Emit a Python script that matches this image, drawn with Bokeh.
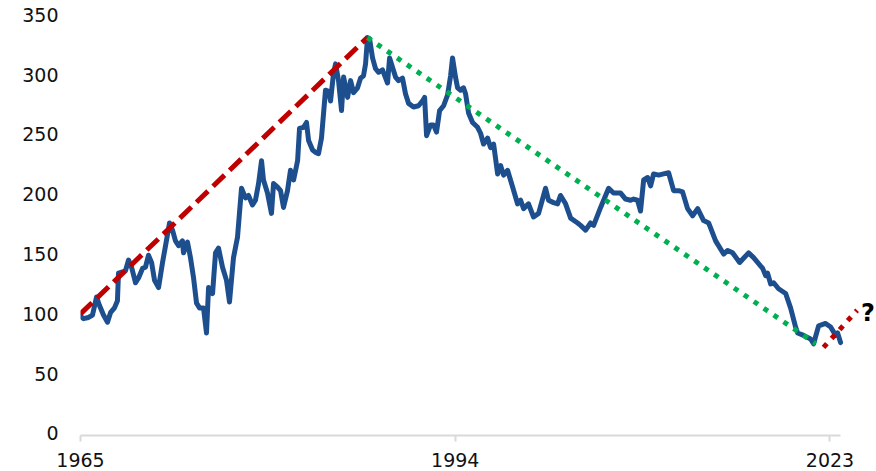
from bokeh.plotting import figure
from bokeh.models import FixedTicker, Label, Range1d
from bokeh.embed import file_html
from bokeh.resources import INLINE

# ---- data ----
years = [1965.0, 1965.23, 1965.62, 1965.93, 1966.24, 1966.47, 1966.78, 1967.09, 1967.32, 1967.63,
         1967.86, 1967.94, 1968.25, 1968.48, 1968.72, 1968.95, 1969.26, 1969.49, 1969.8, 1970.03,
         1970.26, 1970.5, 1970.73, 1971.04, 1971.35, 1971.58, 1971.89, 1972.12, 1972.35, 1972.59,
         1972.89, 1972.97, 1973.28, 1973.51, 1973.75, 1973.98, 1974.21, 1974.52, 1974.75, 1974.91,
         1975.22, 1975.45, 1975.68, 1975.99, 1976.3, 1976.53, 1976.84, 1977.15, 1977.46, 1977.77,
         1978.0, 1978.31, 1978.54, 1978.78, 1979.01, 1979.16, 1979.47, 1979.78, 1979.94, 1980.25,
         1980.48, 1980.71, 1981.02, 1981.25, 1981.49, 1981.8, 1981.95, 1982.26, 1982.49, 1982.65,
         1982.96, 1983.19, 1983.42, 1983.65, 1983.96, 1984.2, 1984.35, 1984.58, 1984.74, 1984.97,
         1985.2, 1985.36, 1985.67, 1985.9, 1986.13, 1986.44, 1986.67, 1986.9, 1987.06, 1987.21,
         1987.37, 1987.6, 1987.83, 1988.07, 1988.37, 1988.76, 1988.92, 1989.15, 1989.38, 1989.61,
         1989.92, 1990.15, 1990.39, 1990.77, 1991.16, 1991.47, 1991.63, 1991.78, 1992.09, 1992.32,
         1992.55, 1992.79, 1993.1, 1993.41, 1993.64, 1993.79, 1994.02, 1994.18, 1994.41, 1994.64,
         1994.8, 1995.03, 1995.34, 1995.73, 1995.96, 1996.19, 1996.5, 1996.73, 1996.97, 1997.28,
         1997.51, 1997.74, 1998.05, 1998.44, 1998.82, 1999.06, 1999.29, 1999.67, 2000.06, 2000.45,
         2000.99, 2001.22, 2001.61, 2001.92, 2002.15, 2002.54, 2002.93, 2003.47, 2003.7, 2004.09,
         2004.47, 2004.71, 2005.25, 2005.87, 2006.25, 2006.8, 2007.18, 2007.57, 2007.8, 2008.11,
         2008.34, 2008.58, 2008.89, 2009.12, 2009.35, 2009.74, 2010.12, 2010.51, 2010.9, 2011.29,
         2011.59, 2011.98, 2012.37, 2012.76, 2013.22, 2013.61, 2014.15, 2014.77, 2015.08, 2015.46,
         2016.01, 2016.7, 2017.09, 2017.79, 2018.02, 2018.17, 2018.41, 2018.64, 2019.02, 2019.57,
         2019.95, 2020.34, 2020.5, 2020.96, 2021.5, 2021.73, 2022.12, 2022.66, 2023.05, 2023.44,
         2023.59, 2023.82]

values = [98, 96, 97, 99, 114, 107, 99, 93, 101, 105,
          111, 134, 135, 136, 145, 139, 126, 130, 138, 139,
          149, 143, 128, 122, 143, 157, 176, 170, 161, 157,
          161, 151, 160, 147, 130, 109, 105, 105, 84, 122,
          117, 151, 155, 139, 128, 110, 147, 164, 205, 197,
          199, 191, 195, 209, 228, 212, 201, 184, 209, 206,
          203, 189, 203, 220, 212, 228, 255, 256, 260, 245,
          237, 235, 234, 247, 287, 286, 278, 301, 309, 295,
          270, 298, 281, 295, 285, 289, 297, 299, 309, 331,
          330, 314, 305, 302, 304, 293, 314, 306, 298, 295,
          297, 284, 276, 273, 274, 278, 281, 249, 258, 258,
          252, 270, 274, 283, 299, 314, 298, 289, 287, 289,
          284, 268, 260, 256, 251, 242, 247, 239, 242, 217,
          224, 216, 220, 206, 192, 195, 188, 192, 181, 184,
          205, 195, 193, 192, 199, 192, 180, 176, 174, 170,
          176, 174, 189, 205, 201, 201, 196, 195, 196, 195,
          186, 212, 214, 207, 217, 216, 217, 218, 203, 203,
          202, 188, 182, 188, 178, 176, 161, 150, 153, 151,
          143, 151, 147, 138, 132, 134, 125, 126, 121, 117,
          105, 89, 84, 82, 79, 75, 90, 92, 89, 82,
          84, 76]

up_years = [1965.0, 1987.2]
up_values = [100, 331]
down_years = [1987.2, 2021.9]
down_values = [331, 75]
next_years = [2022.5, 2025.1]
next_values = [72, 103]
question_year = 2025.4
question_value = 101

x_ticks = [1965, 1994, 2023]
y_ticks = [0, 50, 100, 150, 200, 250, 300, 350]

FONT = "DejaVu Sans"

p = figure(width=876, height=471, output_backend="svg", toolbar_location=None,
           x_range=Range1d(1965, 2026.6), y_range=Range1d(-1.7, 362),
           min_border_left=80, min_border_right=0, min_border_top=0, min_border_bottom=36)
p.outline_line_color = None
p.background_fill_color = "white"
p.border_fill_color = "white"
p.xgrid.grid_line_color = None
p.ygrid.grid_line_color = None

p.line(years, values, line_color="#1d4f8f", line_width=5, line_join="round", line_cap="round")
p.line(up_years, up_values, line_color="#C00000", line_width=5, line_dash="16 7")
p.line(down_years, down_values, line_color="#00B050", line_width=5, line_dash="5 7")
p.line(next_years, next_values, line_color="#C00000", line_width=5, line_dash="5 7")

p.add_layout(Label(x=question_year, y=question_value, text="?", text_font=FONT,
                   text_font_size="24px", text_font_style="bold", text_color="black",
                   text_baseline="middle", text_align="left"))

xa = p.xaxis[0]
xa.ticker = FixedTicker(ticks=x_ticks)
xa.bounds = (1965, 2023.8)
xa.axis_line_color = "#d9d9d9"
xa.axis_line_width = 2
xa.major_tick_line_color = "#d9d9d9"
xa.major_tick_line_width = 2
xa.major_tick_in = 0
xa.major_tick_out = 6
xa.minor_tick_line_color = None
xa.major_label_text_font = FONT
xa.major_label_text_font_size = "19px"
xa.major_label_text_color = "#111111"
xa.major_label_standoff = 11

ya = p.yaxis[0]
ya.ticker = FixedTicker(ticks=y_ticks)
ya.axis_line_color = None
ya.major_tick_line_color = None
ya.minor_tick_line_color = None
ya.major_tick_in = 0
ya.major_tick_out = 0
ya.major_label_text_font = FONT
ya.major_label_text_font_size = "19px"
ya.major_label_text_color = "#111111"
ya.major_label_standoff = 22

open("out.html", "w").write(file_html(p, INLINE))
